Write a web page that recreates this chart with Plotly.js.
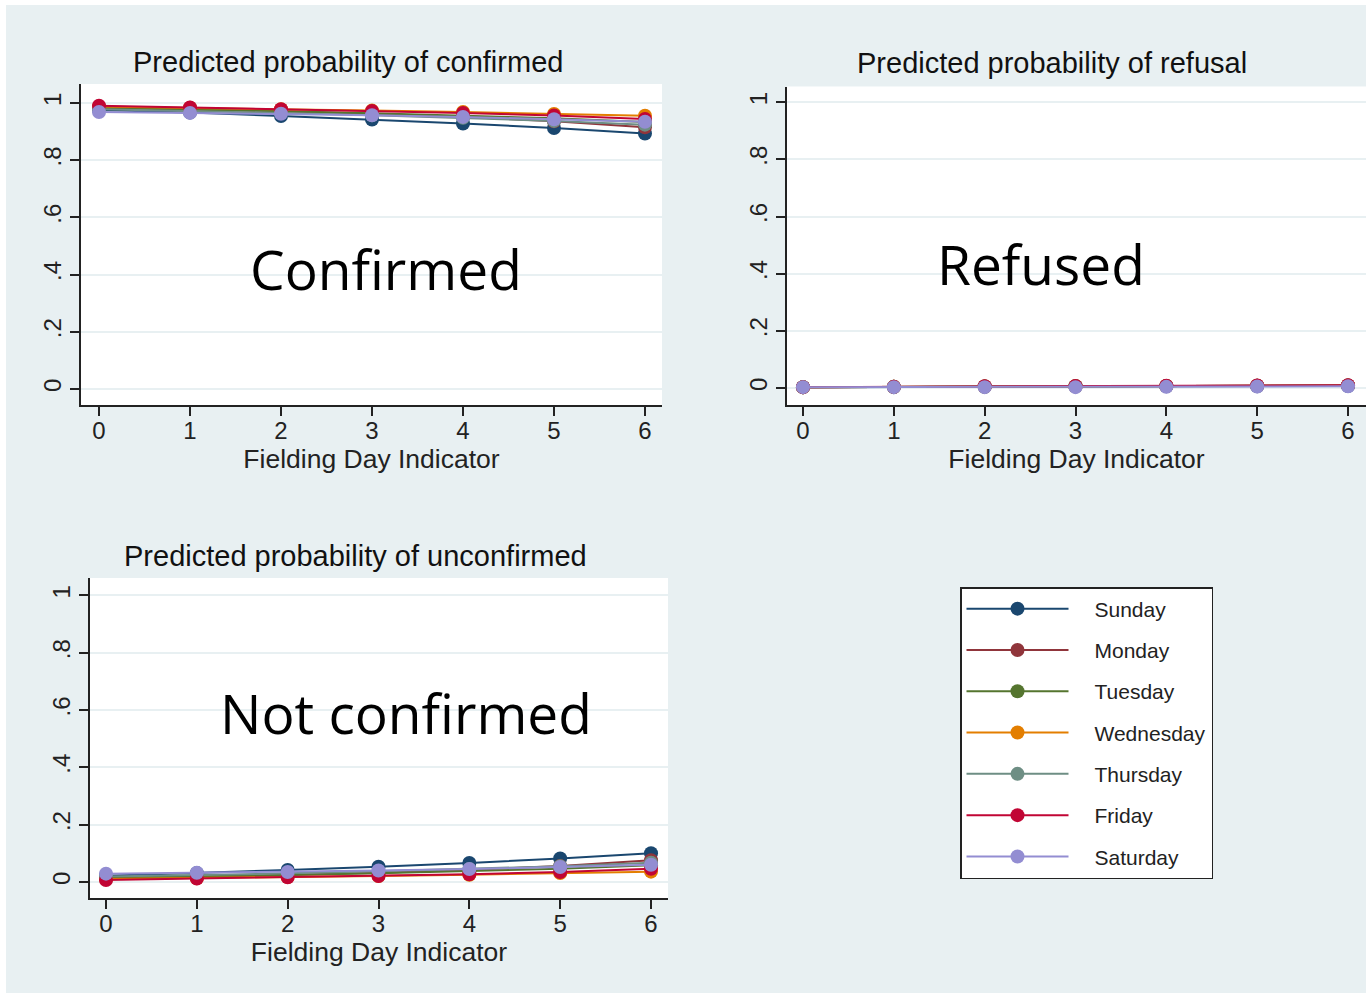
<!DOCTYPE html>
<html>
<head>
<meta charset="utf-8">
<script src="https://cdn.plot.ly/plotly-3.0.1.min.js"></script>
<style>html,body{margin:0;padding:0;background:#fff;}#chart{width:1366px;height:993px;}</style>
</head>
<body>
<div id="chart"></div>
<script>
// ---- Data ----
const days = ["Sunday", "Monday", "Tuesday", "Wednesday", "Thursday", "Friday", "Saturday"];
const fieldingDay = [0, 1, 2, 3, 4, 5, 6];

// rows ordered as `days`
const confirmedProb = [
  [0.975, 0.966, 0.954, 0.942, 0.928, 0.912, 0.893],
  [0.985, 0.979, 0.971, 0.962, 0.951, 0.936, 0.915],
  [0.982, 0.977, 0.971, 0.964, 0.956, 0.946, 0.933],
  [0.987, 0.983, 0.978, 0.973, 0.968, 0.961, 0.955],
  [0.978, 0.972, 0.965, 0.957, 0.948, 0.937, 0.924],
  [0.990, 0.984, 0.978, 0.972, 0.965, 0.956, 0.944],
  [0.968, 0.965, 0.962, 0.957, 0.951, 0.943, 0.934]
];
const refusalProb = [
  [0.003, 0.003, 0.004, 0.005, 0.006, 0.006, 0.007],
  [0.003, 0.004, 0.005, 0.006, 0.007, 0.008, 0.009],
  [0.003, 0.004, 0.005, 0.006, 0.007, 0.008, 0.009],
  [0.003, 0.004, 0.005, 0.006, 0.007, 0.008, 0.009],
  [0.003, 0.004, 0.005, 0.006, 0.007, 0.008, 0.009],
  [0.003, 0.004, 0.006, 0.007, 0.008, 0.009, 0.010],
  [0.003, 0.003, 0.003, 0.003, 0.004, 0.005, 0.006]
];
const unconfirmedProb = [
  [0.022, 0.031, 0.042, 0.053, 0.066, 0.082, 0.100],
  [0.012, 0.017, 0.024, 0.032, 0.042, 0.056, 0.076],
  [0.015, 0.019, 0.024, 0.030, 0.037, 0.046, 0.058],
  [0.010, 0.013, 0.017, 0.021, 0.025, 0.031, 0.036],
  [0.019, 0.024, 0.030, 0.037, 0.045, 0.055, 0.067],
  [0.007, 0.012, 0.016, 0.021, 0.027, 0.035, 0.046],
  [0.029, 0.032, 0.035, 0.040, 0.045, 0.052, 0.060]
];

const yTickVals = [0, 0.2, 0.4, 0.6, 0.8, 1];
const yTickText = ["0", ".2", ".4", ".6", ".8", "1"];
const xTickVals = [0, 1, 2, 3, 4, 5, 6];

const panelTitles = ["Predicted probability of confirmed", "Predicted probability of refusal", "Predicted probability of unconfirmed"];
const panelLabels = ["Confirmed", "Refused", "Not confirmed"];
const xAxisTitle = "Fielding Day Indicator";

// ---- Styles ----
const dayColors = ["#1a476f", "#90353b", "#55752f", "#e37e00", "#6e8e84", "#c10534", "#938dd2"];
const W = 1366, H = 993;
const bg = "#e8f0f2";
const FONT = "Liberation Sans, Arial, sans-serif";

const traces = [];
const panels = [
  {data: confirmedProb, xa: "x", ya: "y"},
  {data: refusalProb, xa: "x2", ya: "y2"},
  {data: unconfirmedProb, xa: "x3", ya: "y3"}
];
panels.forEach((p, pi) => {
  days.forEach((d, i) => {
    traces.push({
      type: "scatter", mode: "lines+markers",
      x: fieldingDay, y: p.data[i],
      xaxis: p.xa, yaxis: p.ya,
      name: "\u2002\u2002" + d, legendgroup: d, showlegend: pi === 0,
      line: {color: dayColors[i], width: 2},
      marker: {color: dayColors[i], size: 14},
      hovertemplate: d + "<br>day %{x}: %{y:.3f}<extra></extra>"
    });
  });
});

function xAxis(domain, range, anchor) {
  return {
    domain: domain, range: range, anchor: anchor,
    tickvals: xTickVals, ticks: "outside", ticklen: 9, tickwidth: 1.5, tickcolor: "#222",
    showline: true, linecolor: "#222", linewidth: 1.5, showgrid: false, zeroline: false,
    ticklabelstandoff: -6,
    tickfont: {family: FONT, size: 24, color: "#222"},
    title: {text: xAxisTitle, font: {family: FONT, size: 26.5, color: "#222"}, standoff: 6}
  };
}
function yAxis(domain, range, anchor) {
  return {
    domain: domain, range: range, anchor: anchor,
    tickvals: yTickVals, ticktext: yTickText, tickangle: -90,
    ticks: "outside", ticklen: 9, tickwidth: 1.5, tickcolor: "#222",
    showline: true, linecolor: "#222", linewidth: 1.5,
    showgrid: true, gridcolor: "#e8f0f2", gridwidth: 1.5, zeroline: false,
    tickfont: {family: FONT, size: 24, color: "#222"}
  };
}
function px(x) { return x / W; }
function py(y) { return (H - y) / H; }
function ann(text, x, y, size, family, color) {
  return {text: text, x: px(x), y: py(y), xref: "paper", yref: "paper", xanchor: "center", yanchor: "middle",
          showarrow: false, font: {family: family, size: size, color: color}};
}

const layout = {
  width: W, height: H,
  margin: {l: 0, r: 0, t: 0, b: 0},
  paper_bgcolor: bg, plot_bgcolor: "#ffffff",
  showlegend: true,
  xaxis: xAxis([px(81), px(662)], [-0.198, 6.187], "y"),
  yaxis: yAxis([py(405), py(84)], [-0.056, 1.066], "x"),
  xaxis2: xAxis([px(787), 1], [-0.176, 6.198], "y2"),
  yaxis2: yAxis([py(405), py(86.5)], [-0.0595, 1.055], "x2"),
  xaxis3: xAxis([px(90), px(668)], [-0.176, 6.187], "y3"),
  yaxis3: yAxis([py(898), py(578)], [-0.056, 1.061], "x3"),
  legend: {
    x: px(960), y: py(587), xanchor: "left", yanchor: "top",
    bgcolor: "#ffffff", bordercolor: "#222", borderwidth: 1.5,
    font: {family: FONT, size: 21, color: "#222"},
    tracegroupgap: 11, itemwidth: 102
  },
  shapes: [
    {type: "rect", xref: "paper", yref: "paper", x0: 0, x1: px(6), y0: 0, y1: 1, fillcolor: "#fff", line: {width: 0}, layer: "below"},
    {type: "rect", xref: "paper", yref: "paper", x0: 0, x1: 1, y0: py(5), y1: 1, fillcolor: "#fff", line: {width: 0}, layer: "below"}
  ],
  annotations: [
    ann(panelTitles[0], 348, 62, 29, FONT, "#111"),
    ann(panelTitles[1], 1052, 63, 29, FONT, "#111"),
    ann(panelTitles[2], 355, 556, 29, FONT, "#111"),
    ann(panelLabels[0], 386, 268, 55, "Open Sans, sans-serif", "#000"),
    ann(panelLabels[1], 1041, 263, 55, "Open Sans, sans-serif", "#000"),
    ann(panelLabels[2], 406, 712, 55, "Open Sans, sans-serif", "#000")
  ]
};

Plotly.newPlot("chart", traces, layout, {displayModeBar: false});
</script>
</body>
</html>
